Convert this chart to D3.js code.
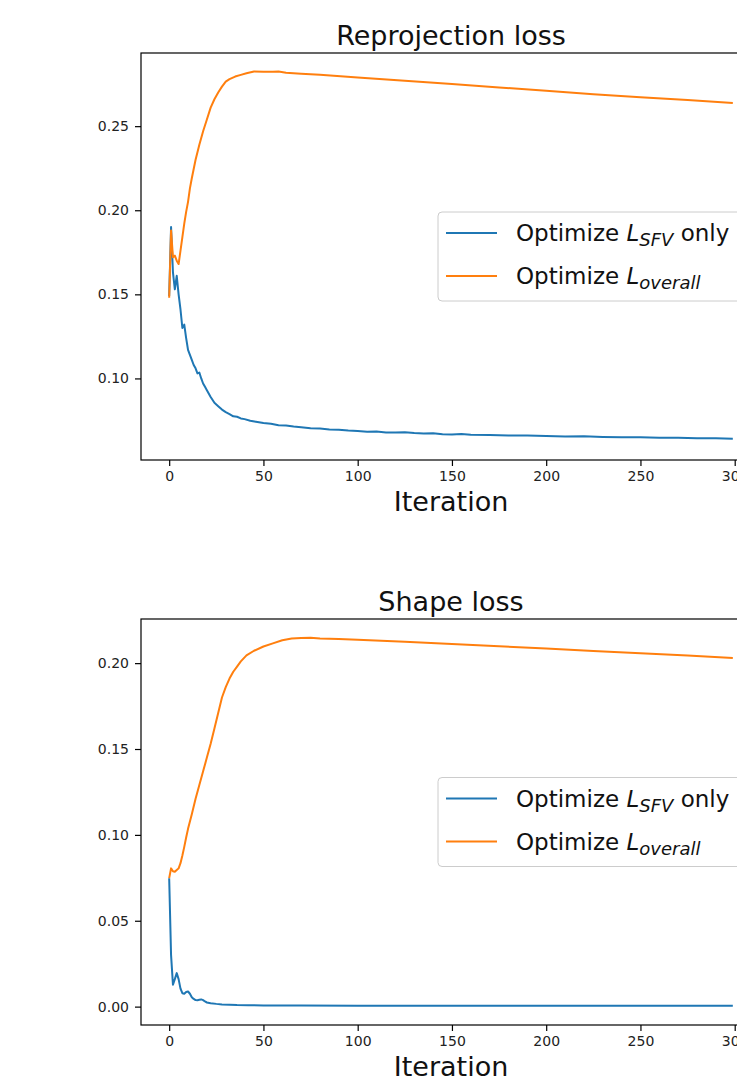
<!DOCTYPE html>
<html>
<head>
<meta charset="utf-8">
<script src="https://cdn.jsdelivr.net/npm/d3@7"></script>
<style>
    body { margin: 0; background: #fff; }
    svg { display: block; font-family: 'DejaVu Sans', sans-serif; }
</style>
</head>
<body>
<svg id="chart" width="737" height="1079"></svg>
<script>
// tick values shared by both panels
const xTicks = [0, 50, 100, 150, 200, 250, 300]
const reprojYTicks = [0.10, 0.15, 0.20, 0.25]
const shapeYTicks = [0.00, 0.05, 0.10, 0.15, 0.20]

const seriesNames = ['SFV', 'overall']

// Reprojection loss, optimize L_SFV only
const reprojSfvIter = [0, 1, 2, 3, 4, 5, 6, 7, 8, 9, 10, 11, 12, 13, 14, 15, 16, 17, 18, 19, 20, 22, 24, 26, 28, 30, 32, 34, 36, 38, 40, 43, 46, 50, 54, 58, 62, 66, 70, 75, 80, 85, 90, 95, 100, 105, 110, 115, 120, 125, 130, 135, 140, 145, 150, 155, 160, 170, 180, 190, 200, 210, 220, 230, 240, 250, 260, 270, 280, 290, 299]
const reprojSfvLoss = [0.149, 0.190, 0.163, 0.153, 0.161, 0.150, 0.141, 0.130, 0.132, 0.124, 0.117, 0.114, 0.111, 0.108, 0.106, 0.103, 0.1035, 0.100, 0.097, 0.095, 0.093, 0.089, 0.0855, 0.0835, 0.0815, 0.0800, 0.0788, 0.0775, 0.0772, 0.0762, 0.0758, 0.0748, 0.0742, 0.0735, 0.0730, 0.0722, 0.0720, 0.0714, 0.0710, 0.0704, 0.0702, 0.0697, 0.0695, 0.0690, 0.0687, 0.0683, 0.0684, 0.0679, 0.0678, 0.0680, 0.0675, 0.0672, 0.0674, 0.0668, 0.0667, 0.0669, 0.0665, 0.0663, 0.0660, 0.0661, 0.0657, 0.0655, 0.0656, 0.0652, 0.0650, 0.0651, 0.0648, 0.0647, 0.0645, 0.0644, 0.0642]

// Reprojection loss, optimize L_overall
const reprojAllIter = [0, 1, 2, 3, 4, 5, 6, 7, 8, 9, 10, 11, 12, 14, 16, 18, 20, 22, 24, 26, 28, 30, 32, 35, 38, 41, 45, 50, 55, 58, 62, 70, 80, 100, 125, 150, 175, 200, 225, 250, 275, 299]
const reprojAllLoss = [0.148, 0.188, 0.172, 0.173, 0.170, 0.168, 0.176, 0.184, 0.192, 0.199, 0.205, 0.213, 0.219, 0.230, 0.239, 0.247, 0.254, 0.261, 0.266, 0.270, 0.2735, 0.2765, 0.278, 0.2795, 0.2805, 0.2815, 0.2825, 0.2823, 0.2824, 0.2825, 0.2818, 0.2812, 0.2805, 0.2790, 0.2770, 0.2750, 0.2730, 0.2710, 0.2690, 0.2672, 0.2655, 0.2638]

// Shape loss, optimize L_SFV only
const shapeSfvIter = [0, 1, 2, 3, 4, 5, 6, 7, 8, 9, 10, 11, 12, 13, 14, 15, 16, 17, 18, 19, 20, 22, 25, 28, 32, 36, 42, 50, 70, 100, 150, 200, 250, 299]
const shapeSfvLoss = [0.0748, 0.030, 0.0128, 0.016, 0.0195, 0.016, 0.0105, 0.0078, 0.0075, 0.0085, 0.0088, 0.0075, 0.0055, 0.0045, 0.0038, 0.0037, 0.0040, 0.0042, 0.0038, 0.0030, 0.0024, 0.0020, 0.0016, 0.0013, 0.0011, 0.0009, 0.0008, 0.0007, 0.0006, 0.0005, 0.0005, 0.0005, 0.0005, 0.0005]

// Shape loss, optimize L_overall
const shapeAllIter = [0, 1, 2, 3, 4, 5, 6, 7, 8, 9, 10, 12, 14, 16, 18, 20, 22, 24, 26, 28, 30, 32, 34, 36, 38, 41, 45, 50, 55, 60, 65, 70, 75, 80, 90, 100, 125, 150, 175, 200, 225, 250, 275, 299]
const shapeAllLoss = [0.0748, 0.0805, 0.0788, 0.0785, 0.0795, 0.0805, 0.0835, 0.088, 0.093, 0.0985, 0.1035, 0.112, 0.121, 0.129, 0.137, 0.145, 0.153, 0.162, 0.171, 0.180, 0.186, 0.191, 0.195, 0.198, 0.201, 0.2045, 0.2072, 0.2097, 0.2115, 0.2133, 0.2144, 0.2146, 0.2148, 0.2144, 0.2141, 0.2136, 0.2125, 0.2112, 0.2098, 0.2085, 0.2070, 0.2057, 0.2044, 0.2030]

const COLORS = ['#1f77b4', '#ff7f0e']
const svg = d3.select('#chart')

const zip = (xs, ys) => xs.map((x, i) => ({x: x, y: ys[i]}))

function drawPanel(opts) {
    const left = 141
    const right = 761
    const x = d3.scaleLinear().domain([-14.95, 313.95]).range([left, right])
    const y = d3.scaleLinear().domain(opts.yDomain).range([opts.bottom, opts.top])
    const g = svg.append('g')

    // clip lines to axes area
    const clipId = 'clip-' + opts.id
    g.append('clipPath').attr('id', clipId)
        .append('rect')
        .attr('x', left).attr('y', opts.top)
        .attr('width', right - left).attr('height', opts.bottom - opts.top)

    const line = d3.line().x(d => x(d.x)).y(d => y(d.y))
    opts.series.forEach((s, i) => {
        g.append('path')
            .datum(zip(s.iter, s.loss))
            .attr('clip-path', `url(#${clipId})`)
            .attr('fill', 'none')
            .attr('stroke', COLORS[i])
            .attr('stroke-width', 2)
            .attr('stroke-linejoin', 'round')
            .attr('d', line)
    })

    const xAxis = g.append('g')
        .attr('transform', `translate(0,${opts.bottom})`)
        .call(d3.axisBottom(x).tickValues(xTicks).tickFormat(d3.format('d')).tickSize(6).tickPadding(5))
    const yAxis = g.append('g')
        .attr('transform', `translate(${left},0)`)
        .call(d3.axisLeft(y).tickValues(opts.yTicks).tickFormat(d3.format('.2f')).tickSize(6).tickPadding(6))

    ;[xAxis, yAxis].forEach(a => {
        a.select('.domain').remove()
        a.selectAll('line').attr('stroke', '#000').attr('stroke-width', 1.2)
        a.selectAll('text').attr('font-size', 14).attr('fill', '#222').attr('font-family', 'DejaVu Sans')
    })

    // spines
    g.append('rect')
        .attr('x', left).attr('y', opts.top)
        .attr('width', right - left).attr('height', opts.bottom - opts.top)
        .attr('fill', 'none')
        .attr('stroke', '#000')
        .attr('stroke-width', 1.2)

    g.append('text')
        .attr('x', (left + right) / 2)
        .attr('y', opts.top - 8)
        .attr('text-anchor', 'middle')
        .attr('font-size', 27)
        .attr('fill', '#111')
        .text(opts.title)

    g.append('text')
        .attr('x', (left + right) / 2)
        .attr('y', opts.bottom + 51)
        .attr('text-anchor', 'middle')
        .attr('font-size', 27)
        .attr('fill', '#111')
        .text('Iteration')

    // legend, centred on the right side
    const mid = (opts.top + opts.bottom) / 2
    const lg = g.append('g')
    lg.append('rect')
        .attr('x', 438).attr('y', mid - 44.5)
        .attr('width', 310).attr('height', 89)
        .attr('rx', 4)
        .attr('fill', '#fff').attr('fill-opacity', 0.8)
        .attr('stroke', '#ccc').attr('stroke-width', 1)

    seriesNames.forEach((name, i) => {
        const ry = mid - 23.5 + i * 43
        lg.append('line')
            .attr('x1', 446).attr('x2', 497)
            .attr('y1', ry).attr('y2', ry)
            .attr('stroke', COLORS[i]).attr('stroke-width', 2)
        const t = lg.append('text')
            .attr('x', 516).attr('y', ry + 8)
            .attr('font-size', 23)
            .attr('fill', '#111')
        t.append('tspan').text('Optimize ')
        t.append('tspan').attr('font-style', 'italic').text('L')
        t.append('tspan').attr('font-style', 'italic').attr('font-size', 18).attr('dy', 5).text(name)
        if (name === 'SFV') {
            t.append('tspan').attr('dy', -5).text(' only')
        }
    })
}

drawPanel({
    id: 'reproj',
    title: 'Reprojection loss',
    top: 53,
    bottom: 460,
    yDomain: [0.0515, 0.2935],
    yTicks: reprojYTicks,
    series: [
        {iter: reprojSfvIter, loss: reprojSfvLoss},
        {iter: reprojAllIter, loss: reprojAllLoss}
    ]
})

drawPanel({
    id: 'shape',
    title: 'Shape loss',
    top: 619,
    bottom: 1025,
    yDomain: [-0.0107, 0.2257],
    yTicks: shapeYTicks,
    series: [
        {iter: shapeSfvIter, loss: shapeSfvLoss},
        {iter: shapeAllIter, loss: shapeAllLoss}
    ]
})
</script>
</body>
</html>
